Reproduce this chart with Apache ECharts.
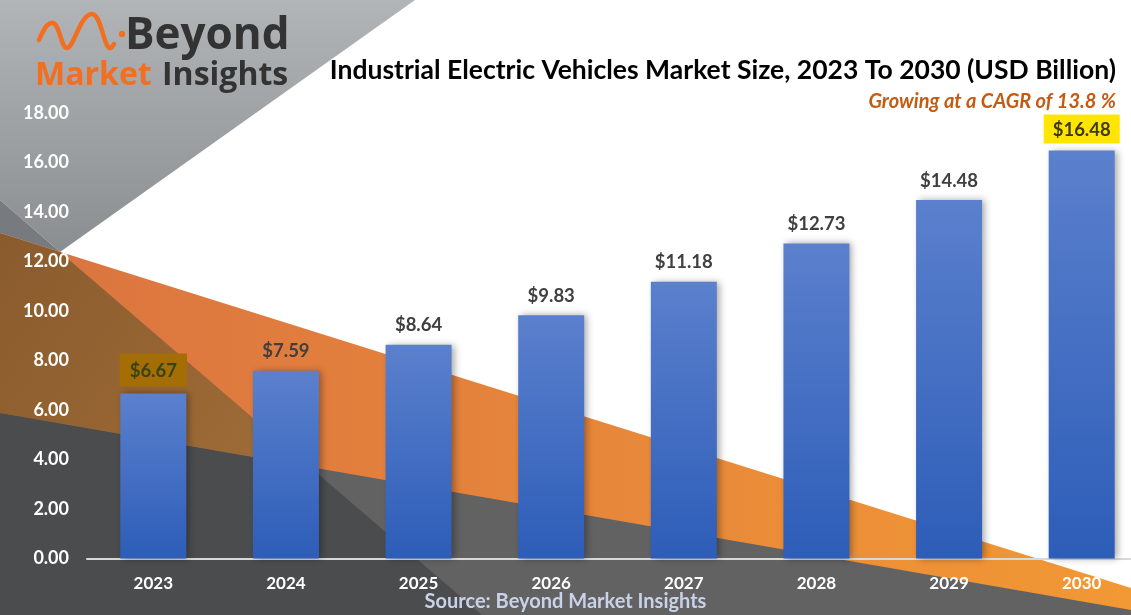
<!DOCTYPE html>
<html><head><meta charset="utf-8">
<script src="https://cdn.jsdelivr.net/npm/echarts@6/dist/echarts.min.js"></script>
<style>html,body{margin:0;padding:0;background:#fff}#c{width:1131px;height:615px}</style>
</head><body><div id="c"></div>
<script>
// ---- data ----
const categories = ['2023', '2024', '2025', '2026', '2027', '2028', '2029', '2030'];
const marketSize = [6.67, 7.59, 8.64, 9.83, 11.18, 12.73, 14.48, 16.48];
const yAxisMin = 0;
const yAxisMax = 18;
const yAxisStep = 2;
const titleText = 'Industrial Electric Vehicles Market Size, 2023 To 2030 (USD Billion)';
const subtitleText = 'Growing at a CAGR of 13.8 %';
const sourceText = 'Source: Beyond Market Insights';
const logoTop = 'Beyond';
const logoLeft = 'Market';
const logoRight = 'Insights';

// ---- chart ----
const FONT = 'Lato';
const chart = echarts.init(document.getElementById('c'));

const barData = marketSize.map((v, i) => {
  const item = { value: v };
  if (i === 0) {
    item.label = { backgroundColor: '#a56d05', color: '#3a4312', padding: [8, 10, 6, 10], distance: 7 };
  } else if (i === marketSize.length - 1) {
    item.label = { backgroundColor: '#ffe500', color: '#3b3a10', padding: [6, 9, 4, 9], distance: 7 };
  }
  return item;
});

const ORANGE = '#f26f21';
const waveStyle = { stroke: ORANGE, lineWidth: 4.5, fill: null, lineCap: 'round' };
const bg = [
  { type: 'polygon', z: -100, shape: { points: [[0, 0], [415, 0], [60, 252], [0, 200]] },
    style: { fill: new echarts.graphic.LinearGradient(0, 0, 0, 1, [{ offset: 0, color: '#b2b5b7' }, { offset: 1, color: '#8b8e91' }]) } },
  { type: 'polygon', z: -99, shape: { points: [[0, 200], [60, 252], [0, 233]] }, style: { fill: '#777a7e' } },
  { type: 'polygon', z: -98, shape: { points: [[0, 233], [1131, 588], [1131, 615], [0, 615]] },
    style: { fill: new echarts.graphic.LinearGradient(0, 0, 1, 0, [{ offset: 0, color: '#da7341' }, { offset: 1, color: '#f29834' }]) } },
  { type: 'polygon', z: -97, shape: { points: [[0, 413], [1131, 610], [1131, 615], [0, 615]] }, style: { fill: '#626262' } },
  { type: 'polygon', z: -96, shape: { points: [[0, 233], [60, 252], [310, 467], [0, 413]] },
    style: { fill: new echarts.graphic.LinearGradient(0, 0, 1, 1, [{ offset: 0, color: '#8a5b2d' }, { offset: 1, color: '#a06d38' }]) } },
  { type: 'polygon', z: -95, shape: { points: [[0, 413], [310, 467], [482, 615], [0, 615]] }, style: { fill: '#4b4c4e' } },
  // logo wave
  { type: 'bezierCurve', z: 10, shape: { x1: 39, y1: 40, cpx1: 44, cpy1: 28, cpx2: 48, cpy2: 22, x2: 53, y2: 23 }, style: waveStyle },
  { type: 'bezierCurve', z: 10, shape: { x1: 53, y1: 23, cpx1: 60, cpy1: 25, cpx2: 61, cpy2: 48, x2: 67, y2: 48 }, style: waveStyle },
  { type: 'bezierCurve', z: 10, shape: { x1: 67, y1: 48, cpx1: 74, cpy1: 48, cpx2: 80, cpy2: 14, x2: 92, y2: 14 }, style: waveStyle },
  { type: 'bezierCurve', z: 10, shape: { x1: 92, y1: 14, cpx1: 101, cpy1: 14, cpx2: 104, cpy2: 48, x2: 110, y2: 48 }, style: waveStyle },
  { type: 'bezierCurve', z: 10, shape: { x1: 110, y1: 48, cpx1: 112, cpy1: 48, cpx2: 113, cpy2: 46, x2: 114, y2: 44 }, style: waveStyle },
  { type: 'circle', z: 10, shape: { cx: 122, cy: 34, r: 3.2 }, style: { fill: ORANGE } },
  { type: 'text', z: 10, style: { text: logoTop, x: 125, y: 36, font: 'bold 44px "Open Sans"', fill: '#333333', verticalAlign: 'middle' } },
  { type: 'text', z: 10, style: { text: logoLeft, x: 35, y: 76, font: 'bold 32px "Open Sans"', fill: ORANGE, verticalAlign: 'middle' } },
  { type: 'text', z: 10, style: { text: logoRight, x: 162, y: 76, font: 'bold 32px "Open Sans"', fill: '#333333', verticalAlign: 'middle' } }
];

chart.setOption({
  animation: false,
  backgroundColor: '#ffffff',
  title: [
    { text: titleText, right: 15, top: 57, padding: 0,
      textStyle: { fontFamily: FONT, fontWeight: 'bold', fontSize: 26.5, color: '#000000' } },
    { text: subtitleText, right: 15, top: 92, padding: 0,
      textStyle: { fontFamily: FONT, fontWeight: 'bold', fontStyle: 'italic', fontSize: 20, color: '#c55a11' } },
    { text: sourceText, left: 'center', top: 592, padding: 0,
      textStyle: { fontFamily: FONT, fontWeight: 'bold', fontSize: 20, color: '#c9d2e8' } }
  ],
  graphic: { elements: bg },
  grid: { left: 87, top: 113, right: -17, bottom: 56.5, outerBoundsMode: 'none', containLabel: false },
  xAxis: {
    type: 'category', data: categories,
    axisLine: { lineStyle: { color: '#d9d9d9', width: 2 } },
    axisTick: { show: false },
    axisLabel: { color: '#ffffff', fontWeight: 'bold', fontSize: 17, fontFamily: FONT, margin: 17 }
  },
  yAxis: {
    type: 'value', min: yAxisMin, max: yAxisMax, interval: yAxisStep,
    axisLine: { show: false }, axisTick: { show: false }, splitLine: { show: false },
    axisLabel: { color: '#ffffff', fontWeight: 'bold', fontSize: 18, fontFamily: FONT, margin: 18,
      formatter: v => v.toFixed(2) }
  },
  series: [{
    type: 'bar', data: barData, barWidth: 66,
    itemStyle: {
      color: new echarts.graphic.LinearGradient(0, 0, 0, 1, [{ offset: 0, color: '#5b80cd' }, { offset: 1, color: '#2d5db8' }]),
      shadowColor: 'rgba(0,0,0,0.35)', shadowBlur: 7, shadowOffsetX: 3
    },
    label: {
      show: true, position: 'top', distance: 10,
      formatter: p => '$' + p.value.toFixed(2),
      color: '#404040', fontWeight: 'bold', fontSize: 18.5, fontFamily: FONT
    }
  }]
});
</script></body></html>
